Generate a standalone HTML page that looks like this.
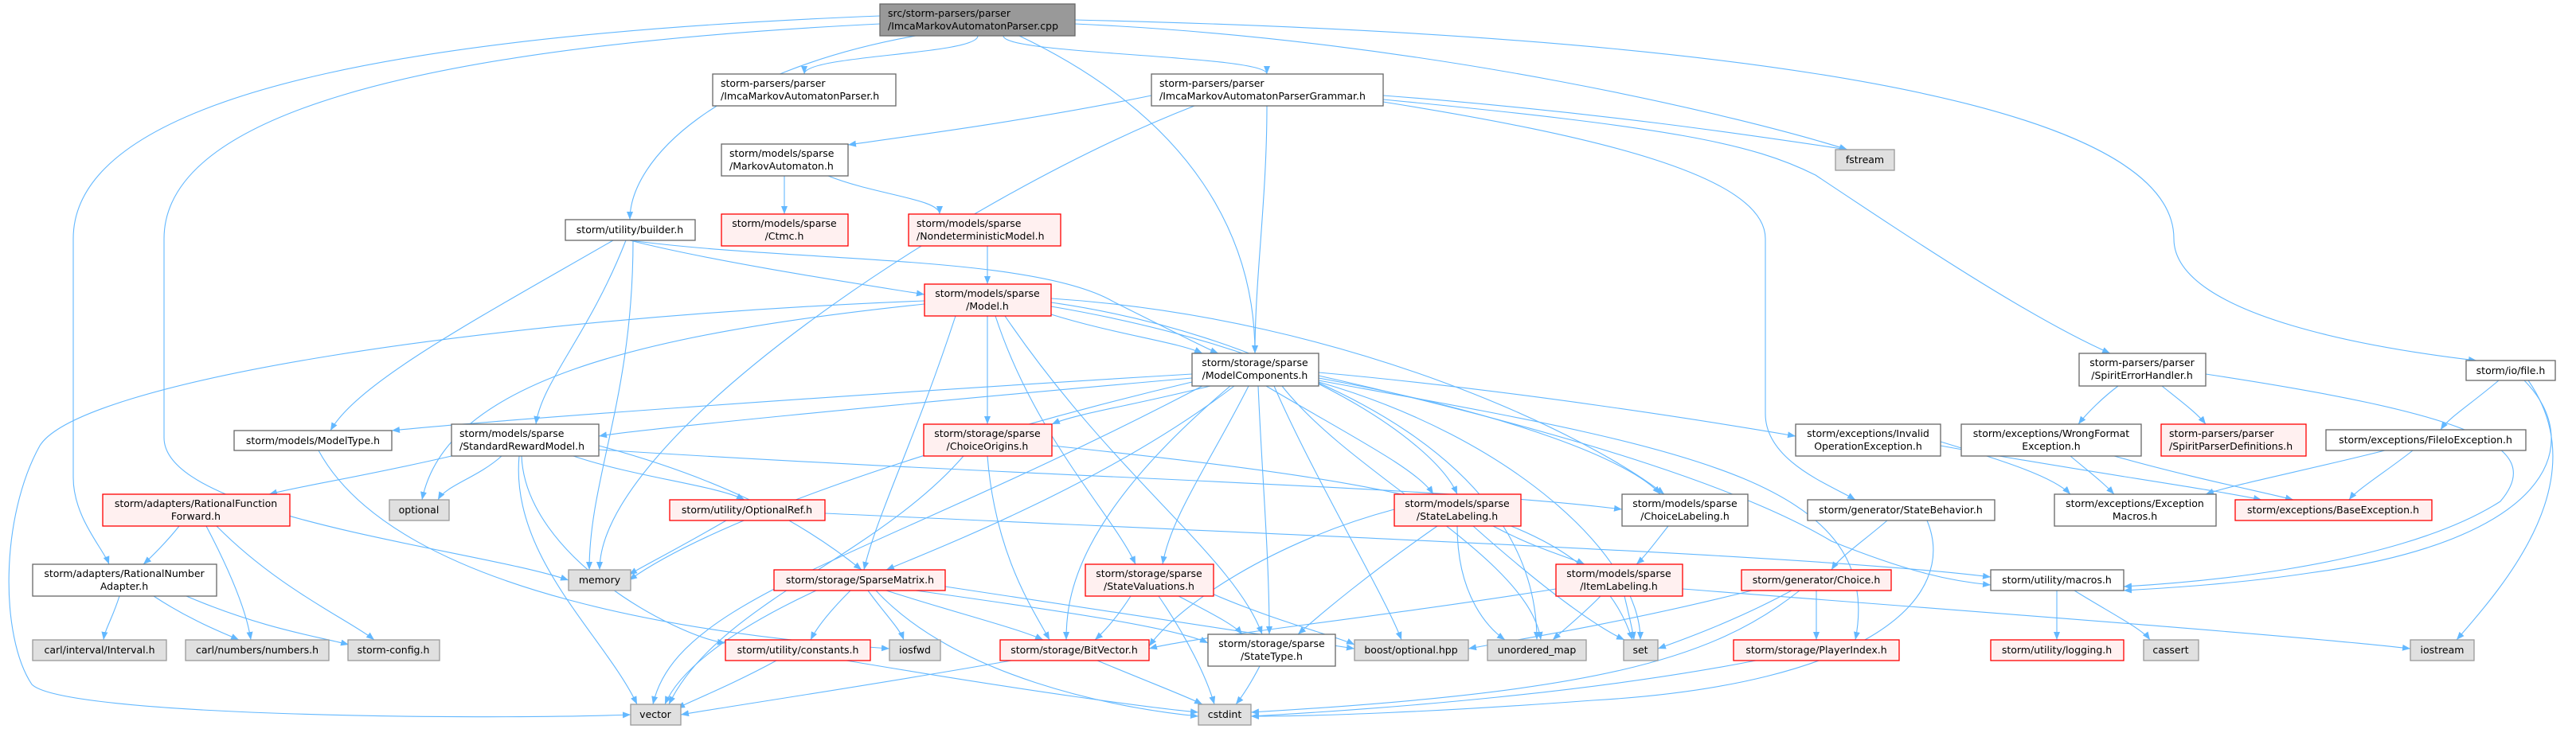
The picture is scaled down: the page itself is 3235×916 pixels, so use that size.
<!DOCTYPE html>
<html><head><meta charset="utf-8"><style>
html,body{margin:0;padding:0;background:#fff}
svg{display:block}
text{font-family:"DejaVu Sans","Liberation Sans",sans-serif;font-size:12.5px;fill:#000}
.e{fill:none;stroke:#63b8ff;stroke-width:1.1;marker-end:url(#a)}
.w{fill:#fff;stroke:#666;stroke-width:1.3}
.r{fill:#fff0f0;stroke:#f00;stroke-width:1.3}
.g{fill:#e0e0e0;stroke:#999;stroke-width:1.3}
.m{fill:#999;stroke:#666;stroke-width:1.3}
</style></head><body>
<svg width="3235" height="916" viewBox="0 0 3235 916" xmlns="http://www.w3.org/2000/svg">
<defs><marker id="a" markerUnits="userSpaceOnUse" markerWidth="11" markerHeight="9" refX="10" refY="4" orient="auto"><path d="M0,0 L10,4 L0,8 z" fill="#63b8ff"/></marker></defs>
<g>
<path class="e" d="M1228,45 C1228,69 1010,69 1010,93"/>
<path class="e" d="M1260,45 C1260,69 1591,69 1591,93"/>
<path class="e" d="M1150,45 C900,90 791,200 791,276"/>
<path class="e" d="M1280,45 C1500,150 1576,300 1576,444"/>
<path class="e" d="M1105,30 C500,60 206,150 206,300 L206,550 C206,650 600,690 714,729"/>
<path class="e" d="M1105,20 C600,40 92,100 92,300 L92,600 C92,650 130,690 137,709"/>
<path class="e" d="M1350,30 C1800,50 2200,150 2320,188"/>
<path class="e" d="M1350,25 C2000,40 2730,100 2730,300 C2730,400 3000,440 3110,453"/>
<path class="e" d="M1161,378 C600,400 100,480 50,560 C0,650 0,800 40,860 C80,900 600,905 792,898"/>
<path class="e" d="M1446,120 C1300,150 1150,170 1065,182"/>
<path class="e" d="M1500,133 C1200,250 753,550 753,716"/>
<path class="e" d="M1591,133 C1591,250 1576,350 1576,444"/>
<path class="e" d="M1737,120 C2000,140 2200,170 2320,188"/>
<path class="e" d="M1737,125 C2100,160 2200,180 2280,220 C2400,300 2550,400 2650,444"/>
<path class="e" d="M1737,128 C2000,170 2217,220 2217,300 L2217,520 C2217,580 2300,610 2330,628"/>
<path class="e" d="M985,221 C985,245 985,245 985,269"/>
<path class="e" d="M1040,221 C1100,245 1180,250 1180,269"/>
<path class="e" d="M1240,309 C1240,333 1240,333 1240,357"/>
<path class="e" d="M791,302 C900,330 1100,360 1161,370"/>
<path class="e" d="M791,302 C1000,330 1300,320 1400,380 C1500,430 1520,440 1530,444"/>
<path class="e" d="M770,302 C600,400 450,480 415,541"/>
<path class="e" d="M786,302 C740,420 680,480 673,533"/>
<path class="e" d="M795,302 C795,500 740,600 740,716"/>
<path class="e" d="M1320,395 C1400,420 1480,430 1510,444"/>
<path class="e" d="M1161,382 C800,420 560,480 530,628"/>
<path class="e" d="M1240,397 C1240,460 1240,480 1240,533"/>
<path class="e" d="M1200,397 C1150,550 1100,650 1085,716"/>
<path class="e" d="M1250,397 C1300,550 1400,650 1426,709"/>
<path class="e" d="M1262,397 C1400,600 1550,700 1585,797"/>
<path class="e" d="M1320,380 C1600,420 1800,550 1830,621"/>
<path class="e" d="M1320,375 C1700,400 2000,550 2090,621"/>
<path class="e" d="M1320,385 C1700,450 1930,600 1930,804"/>
<path class="e" d="M1497,470 C1000,500 600,530 492,541"/>
<path class="e" d="M1497,475 C1100,510 800,540 752,548"/>
<path class="e" d="M1520,485 C1420,510 1350,520 1321,533"/>
<path class="e" d="M1550,485 C1400,600 1200,680 1113,716"/>
<path class="e" d="M1568,485 C1520,580 1470,650 1460,709"/>
<path class="e" d="M1580,485 C1585,600 1594,700 1594,797"/>
<path class="e" d="M1545,485 C1350,650 1339,750 1339,804"/>
<path class="e" d="M1590,485 C1700,550 1780,590 1800,621"/>
<path class="e" d="M1656,475 C1900,520 2050,580 2085,621"/>
<path class="e" d="M1656,468 C1900,490 2150,530 2255,548"/>
<path class="e" d="M1656,472 C2000,550 2200,620 2300,680 C2400,720 2450,730 2500,735"/>
<path class="e" d="M1600,485 C1650,600 1740,750 1760,804"/>
<path class="e" d="M1610,485 C1700,600 1920,700 1935,804"/>
<path class="e" d="M1497,480 C1200,550 900,650 790,729"/>
<path class="e" d="M1510,485 C1100,700 850,750 820,885"/>
<path class="e" d="M1656,478 C2100,560 2370,600 2330,804"/>
<path class="e" d="M1656,480 C1900,550 2060,700 2060,804"/>
<path class="e" d="M567,573 C450,600 380,610 338,621"/>
<path class="e" d="M630,573 C600,600 560,610 550,628"/>
<path class="e" d="M720,573 C800,600 900,610 935,628"/>
<path class="e" d="M752,560 C900,600 1000,650 1082,716"/>
<path class="e" d="M655,573 C660,700 850,800 911,808"/>
<path class="e" d="M652,573 C640,700 760,800 800,885"/>
<path class="e" d="M752,565 C1300,600 1800,610 2037,640"/>
<path class="e" d="M225,661 C210,680 190,700 180,709"/>
<path class="e" d="M259,661 C290,720 310,770 315,804"/>
<path class="e" d="M272,661 C350,740 440,780 470,804"/>
<path class="e" d="M150,749 C140,780 132,790 130,804"/>
<path class="e" d="M193,749 C240,780 280,795 300,804"/>
<path class="e" d="M234,749 C330,790 400,800 438,810"/>
<path class="e" d="M400,566 C500,750 900,800 1117,815"/>
<path class="e" d="M912,654 C850,690 810,710 790,722"/>
<path class="e" d="M1036,645 C1800,680 2300,700 2500,725"/>
<path class="e" d="M1210,573 C1100,700 900,760 840,885"/>
<path class="e" d="M1240,573 C1250,700 1300,770 1318,804"/>
<path class="e" d="M1321,560 C1800,610 2000,650 2050,804"/>
<path class="e" d="M1025,742 C900,800 850,850 835,885"/>
<path class="e" d="M1068,742 C1040,770 1025,790 1018,804"/>
<path class="e" d="M1090,742 C1110,770 1130,790 1135,804"/>
<path class="e" d="M1113,742 C1200,770 1280,790 1310,804"/>
<path class="e" d="M1100,742 C1200,850 1400,890 1505,900"/>
<path class="e" d="M1150,742 C1350,770 1480,790 1517,808"/>
<path class="e" d="M1187,737 C1400,770 1600,800 1701,815"/>
<path class="e" d="M1420,749 C1400,780 1385,795 1375,804"/>
<path class="e" d="M1480,749 C1520,770 1550,785 1560,797"/>
<path class="e" d="M1455,749 C1490,800 1515,850 1525,885"/>
<path class="e" d="M1520,745 C1600,780 1680,800 1701,810"/>
<path class="e" d="M975,830 C920,860 870,880 850,890"/>
<path class="e" d="M1063,830 C1300,870 1450,890 1505,895"/>
<path class="e" d="M1270,830 C1100,860 900,890 855,898"/>
<path class="e" d="M1378,830 C1450,860 1490,875 1510,885"/>
<path class="e" d="M1582,837 C1570,860 1560,875 1552,885"/>
<path class="e" d="M1805,661 C1720,720 1660,770 1630,797"/>
<path class="e" d="M1875,661 C1930,690 1970,700 1990,709"/>
<path class="e" d="M1830,661 C1830,750 1870,790 1890,804"/>
<path class="e" d="M1850,661 C1950,750 2010,790 2040,804"/>
<path class="e" d="M1751,640 C1600,680 1480,760 1443,812"/>
<path class="e" d="M2095,661 C2080,680 2065,700 2055,709"/>
<path class="e" d="M2010,749 C1990,770 1965,790 1950,804"/>
<path class="e" d="M2040,749 C2045,770 2050,790 2052,804"/>
<path class="e" d="M1954,740 C1700,780 1500,800 1443,815"/>
<path class="e" d="M2113,740 C2500,770 2900,800 3027,815"/>
<path class="e" d="M2370,654 C2340,680 2310,700 2300,716"/>
<path class="e" d="M2420,654 C2460,750 2350,860 2000,880 C1800,895 1650,900 1571,900"/>
<path class="e" d="M2281,742 C2281,770 2281,790 2281,804"/>
<path class="e" d="M2250,742 C2180,780 2110,805 2082,815"/>
<path class="e" d="M2200,742 C2050,780 1900,805 1844,815"/>
<path class="e" d="M2260,742 C2150,830 2000,870 1571,895"/>
<path class="e" d="M2205,830 C2000,870 1750,890 1571,900"/>
<path class="e" d="M2437,555 C2520,580 2580,600 2600,621"/>
<path class="e" d="M2437,560 C2600,590 2780,615 2840,628"/>
<path class="e" d="M2660,485 C2640,500 2620,520 2610,533"/>
<path class="e" d="M2715,485 C2740,505 2760,520 2770,533"/>
<path class="e" d="M2770,470 C3100,520 3200,560 3140,630 C3000,720 2700,735 2667,737"/>
<path class="e" d="M2600,573 C2620,590 2640,605 2655,621"/>
<path class="e" d="M2655,573 C2750,600 2850,620 2880,628"/>
<path class="e" d="M3138,478 C3100,510 3075,525 3065,540"/>
<path class="e" d="M3170,478 C3250,560 3200,680 2900,720 C2800,735 2700,740 2667,742"/>
<path class="e" d="M3175,478 C3260,600 3150,730 3085,804"/>
<path class="e" d="M2995,566 C2900,590 2800,610 2770,621"/>
<path class="e" d="M3030,566 C3000,590 2960,615 2950,628"/>
<path class="e" d="M2583,742 C2583,770 2583,790 2583,804"/>
<path class="e" d="M2605,742 C2650,770 2690,790 2700,804"/>
</g>
<g>
<rect class="m" x="1105" y="5" width="245" height="40"/>
<text x="1115" y="21">src/storm-parsers/parser</text><text x="1115" y="37">/ImcaMarkovAutomatonParser.cpp</text>
<rect class="w" x="895" y="93" width="230" height="40"/>
<text x="905" y="109">storm-parsers/parser</text><text x="905" y="125">/ImcaMarkovAutomatonParser.h</text>
<rect class="w" x="1446" y="93" width="291" height="40"/>
<text x="1456" y="109">storm-parsers/parser</text><text x="1456" y="125">/ImcaMarkovAutomatonParserGrammar.h</text>
<rect class="w" x="906" y="181" width="159" height="40"/>
<text x="916" y="197">storm/models/sparse</text><text x="916" y="213">/MarkovAutomaton.h</text>
<rect class="r" x="906" y="269" width="159" height="40"/>
<text x="985" y="285" text-anchor="middle">storm/models/sparse</text><text x="985" y="301" text-anchor="middle">/Ctmc.h</text>
<rect class="r" x="1141" y="269" width="191" height="40"/>
<text x="1151" y="285">storm/models/sparse</text><text x="1151" y="301">/NondeterministicModel.h</text>
<rect class="r" x="1161" y="357" width="159" height="40"/>
<text x="1240" y="373" text-anchor="middle">storm/models/sparse</text><text x="1240" y="389" text-anchor="middle">/Model.h</text>
<rect class="w" x="1497" y="444" width="159" height="41"/>
<text x="1576" y="460" text-anchor="middle">storm/storage/sparse</text><text x="1576" y="476" text-anchor="middle">/ModelComponents.h</text>
<rect class="w" x="710" y="276" width="163" height="26"/>
<text x="791" y="293" text-anchor="middle">storm/utility/builder.h</text>
<rect class="g" x="2305" y="188" width="74" height="26"/>
<text x="2342" y="205" text-anchor="middle">fstream</text>
<rect class="w" x="2611" y="444" width="159" height="41"/>
<text x="2690" y="460" text-anchor="middle">storm-parsers/parser</text><text x="2690" y="476" text-anchor="middle">/SpiritErrorHandler.h</text>
<rect class="w" x="3097" y="453" width="112" height="25"/>
<text x="3153" y="470" text-anchor="middle">storm/io/file.h</text>
<rect class="w" x="294" y="541" width="198" height="25"/>
<text x="393" y="558" text-anchor="middle">storm/models/ModelType.h</text>
<rect class="w" x="567" y="533" width="185" height="40"/>
<text x="577" y="549">storm/models/sparse</text><text x="577" y="565">/StandardRewardModel.h</text>
<rect class="r" x="129" y="621" width="235" height="40"/>
<text x="246" y="637" text-anchor="middle">storm/adapters/RationalFunction</text><text x="246" y="653" text-anchor="middle">Forward.h</text>
<rect class="g" x="489" y="628" width="75" height="26"/>
<text x="526" y="645" text-anchor="middle">optional</text>
<rect class="w" x="41" y="709" width="231" height="40"/>
<text x="156" y="725" text-anchor="middle">storm/adapters/RationalNumber</text><text x="156" y="741" text-anchor="middle">Adapter.h</text>
<rect class="g" x="714" y="716" width="78" height="26"/>
<text x="753" y="733" text-anchor="middle">memory</text>
<rect class="g" x="41" y="804" width="168" height="26"/>
<text x="125" y="821" text-anchor="middle">carl/interval/Interval.h</text>
<rect class="g" x="233" y="804" width="180" height="26"/>
<text x="323" y="821" text-anchor="middle">carl/numbers/numbers.h</text>
<rect class="g" x="437" y="804" width="115" height="26"/>
<text x="494" y="821" text-anchor="middle">storm-config.h</text>
<rect class="g" x="792" y="885" width="63" height="26"/>
<text x="823" y="902" text-anchor="middle">vector</text>
<rect class="r" x="1160" y="533" width="161" height="40"/>
<text x="1240" y="549" text-anchor="middle">storm/storage/sparse</text><text x="1240" y="565" text-anchor="middle">/ChoiceOrigins.h</text>
<rect class="r" x="841" y="628" width="195" height="26"/>
<text x="938" y="645" text-anchor="middle">storm/utility/OptionalRef.h</text>
<rect class="r" x="972" y="716" width="215" height="26"/>
<text x="1080" y="733" text-anchor="middle">storm/storage/SparseMatrix.h</text>
<rect class="r" x="1363" y="709" width="161" height="40"/>
<text x="1443" y="725" text-anchor="middle">storm/storage/sparse</text><text x="1443" y="741" text-anchor="middle">/StateValuations.h</text>
<rect class="r" x="911" y="804" width="182" height="26"/>
<text x="1002" y="821" text-anchor="middle">storm/utility/constants.h</text>
<rect class="g" x="1117" y="804" width="64" height="26"/>
<text x="1149" y="821" text-anchor="middle">iosfwd</text>
<rect class="r" x="1256" y="804" width="187" height="26"/>
<text x="1349" y="821" text-anchor="middle">storm/storage/BitVector.h</text>
<rect class="w" x="1517" y="797" width="160" height="40"/>
<text x="1597" y="813" text-anchor="middle">storm/storage/sparse</text><text x="1597" y="829" text-anchor="middle">/StateType.h</text>
<rect class="g" x="1505" y="885" width="66" height="26"/>
<text x="1538" y="902" text-anchor="middle">cstdint</text>
<rect class="r" x="1751" y="621" width="159" height="40"/>
<text x="1830" y="637" text-anchor="middle">storm/models/sparse</text><text x="1830" y="653" text-anchor="middle">/StateLabeling.h</text>
<rect class="w" x="2037" y="621" width="158" height="40"/>
<text x="2116" y="637" text-anchor="middle">storm/models/sparse</text><text x="2116" y="653" text-anchor="middle">/ChoiceLabeling.h</text>
<rect class="w" x="2255" y="533" width="182" height="40"/>
<text x="2346" y="549" text-anchor="middle">storm/exceptions/Invalid</text><text x="2346" y="565" text-anchor="middle">OperationException.h</text>
<rect class="w" x="2270" y="628" width="235" height="26"/>
<text x="2387" y="645" text-anchor="middle">storm/generator/StateBehavior.h</text>
<rect class="r" x="1954" y="709" width="159" height="40"/>
<text x="2033" y="725" text-anchor="middle">storm/models/sparse</text><text x="2033" y="741" text-anchor="middle">/ItemLabeling.h</text>
<rect class="r" x="2187" y="716" width="188" height="26"/>
<text x="2281" y="733" text-anchor="middle">storm/generator/Choice.h</text>
<rect class="g" x="1701" y="804" width="143" height="26"/>
<text x="1772" y="821" text-anchor="middle">boost/optional.hpp</text>
<rect class="g" x="1868" y="804" width="124" height="26"/>
<text x="1930" y="821" text-anchor="middle">unordered_map</text>
<rect class="g" x="2039" y="804" width="43" height="26"/>
<text x="2060" y="821" text-anchor="middle">set</text>
<rect class="r" x="2177" y="804" width="208" height="26"/>
<text x="2281" y="821" text-anchor="middle">storm/storage/PlayerIndex.h</text>
<rect class="w" x="2463" y="533" width="226" height="40"/>
<text x="2576" y="549" text-anchor="middle">storm/exceptions/WrongFormat</text><text x="2576" y="565" text-anchor="middle">Exception.h</text>
<rect class="r" x="2714" y="533" width="182" height="40"/>
<text x="2724" y="549">storm-parsers/parser</text><text x="2724" y="565">/SpiritParserDefinitions.h</text>
<rect class="w" x="2921" y="540" width="251" height="26"/>
<text x="3046" y="557" text-anchor="middle">storm/exceptions/FileIoException.h</text>
<rect class="w" x="2580" y="621" width="203" height="40"/>
<text x="2681" y="637" text-anchor="middle">storm/exceptions/Exception</text><text x="2681" y="653" text-anchor="middle">Macros.h</text>
<rect class="r" x="2807" y="628" width="247" height="26"/>
<text x="2930" y="645" text-anchor="middle">storm/exceptions/BaseException.h</text>
<rect class="w" x="2500" y="716" width="167" height="26"/>
<text x="2583" y="733" text-anchor="middle">storm/utility/macros.h</text>
<rect class="r" x="2500" y="804" width="167" height="26"/>
<text x="2583" y="821" text-anchor="middle">storm/utility/logging.h</text>
<rect class="g" x="2692" y="804" width="69" height="26"/>
<text x="2726" y="821" text-anchor="middle">cassert</text>
<rect class="g" x="3027" y="804" width="80" height="26"/>
<text x="3067" y="821" text-anchor="middle">iostream</text>
</g>
</svg>
</body></html>
